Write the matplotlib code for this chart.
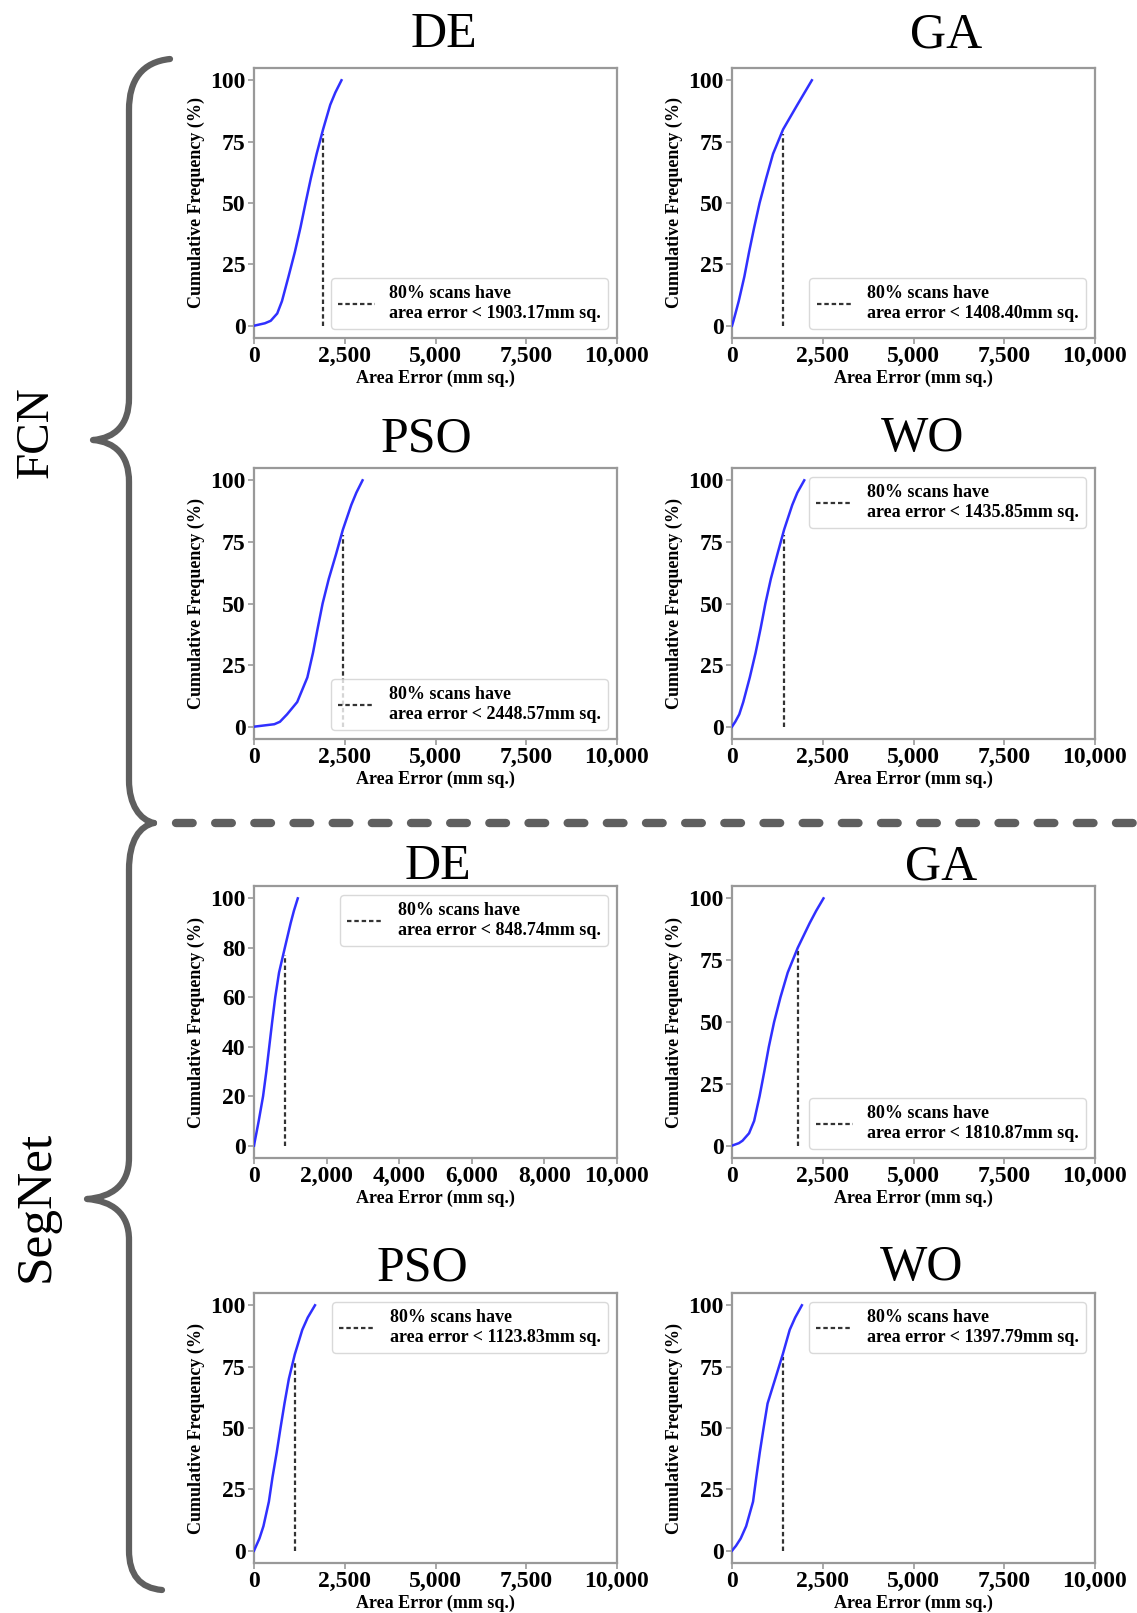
import matplotlib
matplotlib.use("Agg")
import matplotlib.pyplot as plt
from matplotlib.path import Path
from matplotlib.patches import PathPatch
from matplotlib.lines import Line2D
from matplotlib.ticker import FuncFormatter

plt.rcParams['font.family'] = ['Liberation Serif', 'DejaVu Serif']

W, H = 1137, 1613

# ---------------- data ----------------
models = ["FCN", "SegNet"]
algorithms = ["DE", "GA", "PSO", "WO"]

# cumulative frequency levels (%) at which area errors were read
cum_levels = [0, 1, 2, 5, 10, 20, 30, 40, 50, 60, 70, 80, 90, 95, 100]

fcn_de_err = [0, 300, 460, 640, 770, 950, 1125, 1280, 1420, 1565, 1725, 1903, 2100, 2240, 2410]
fcn_ga_err = [0, 20, 40, 95, 185, 340, 470, 610, 760, 940, 1130, 1408, 1800, 2000, 2200]
fcn_pso_err = [0, 560, 715, 910, 1190, 1470, 1625, 1755, 1890, 2060, 2260, 2449, 2680, 2820, 2990]
fcn_wo_err = [0, 45, 90, 200, 310, 490, 650, 790, 920, 1070, 1250, 1436, 1660, 1800, 1990]
seg_de_err = [0, 12, 25, 65, 130, 250, 340, 420, 500, 585, 690, 849, 1010, 1100, 1206]
seg_ga_err = [0, 190, 290, 470, 610, 760, 890, 1015, 1160, 1335, 1535, 1811, 2140, 2320, 2520]
seg_pso_err = [0, 30, 60, 150, 260, 410, 510, 625, 730, 840, 960, 1124, 1330, 1480, 1680]
seg_wo_err = [0, 55, 110, 240, 390, 580, 670, 765, 870, 980, 1190, 1398, 1590, 1740, 1925]

thresholds_80 = [1903.17, 1408.40, 2448.57, 1435.85, 848.74, 1810.87, 1123.83, 1397.79]
vline_tops = [78, 78, 78, 78, 77, 79, 77, 79]

x_ticks_default = [0, 2500, 5000, 7500, 10000]
y_ticks_default = [0, 25, 50, 75, 100]
x_ticks_seg_de = [0, 2000, 4000, 6000, 8000, 10000]
y_ticks_seg_de = [0, 20, 40, 60, 80, 100]

# ---------------- layout ----------------
errs = [fcn_de_err, fcn_ga_err, fcn_pso_err, fcn_wo_err,
        seg_de_err, seg_ga_err, seg_pso_err, seg_wo_err]
legend_locs = ["lower right", "lower right", "lower right", "upper right",
               "upper right", "lower right", "upper right", "upper right"]
col_x = [(254, 617), (732, 1095)]
row_y = [(68, 338), (468, 739), (886, 1158), (1293, 1563)]
title_pos = [(444, 35), (946, 35), (426, 439), (923, 439),
             (438, 867), (941, 867), (422, 1268), (922, 1268)]


def rect(l, t, r, b):
    return [l / W, 1 - b / H, (r - l) / W, (b - t) / H]


def fx(x):
    return x / W


def fy(y):
    return 1 - y / H


fig = plt.figure(figsize=(W / 100, H / 100), dpi=100)

spine_col = "#999999"
fmt = FuncFormatter(lambda v, p: f"{int(v):,}")

for i in range(8):
    m, a = divmod(i, 4)
    r, c = divmod(a, 2)
    row = m * 2 + r
    l, rr = col_x[c]
    t, b = row_y[row]
    ax = fig.add_axes(rect(l, t, rr, b))
    ax.plot(errs[i], cum_levels, color="#3030ff", lw=1.8, zorder=3,
            solid_joinstyle="round")
    ax.plot([thresholds_80[i], thresholds_80[i]], [0, vline_tops[i]],
            color="#333333", lw=1.6, dashes=(2.0, 1.3),
            label=f"80% scans have\narea error < {thresholds_80[i]:.2f}mm sq.")
    ax.set_xlim(0, 10000)
    ax.set_ylim(-5, 105)
    if i == 4:
        ax.set_xticks(x_ticks_seg_de)
        ax.set_yticks(y_ticks_seg_de)
    else:
        ax.set_xticks(x_ticks_default)
        ax.set_yticks(y_ticks_default)
    ax.xaxis.set_major_formatter(fmt)
    for s in ax.spines.values():
        s.set_color(spine_col)
        s.set_linewidth(1.6)
    ax.tick_params(axis="both", length=4, width=1.2, color=spine_col,
                   labelsize=17, pad=2)
    for lab in ax.get_xticklabels() + ax.get_yticklabels():
        lab.set_fontweight("bold")
    ax.set_xlabel("Area Error (mm sq.)", fontsize=13, fontweight="bold", labelpad=2)
    ax.set_ylabel("Cumulative Frequency (%)", fontsize=13, fontweight="bold", labelpad=4)
    leg = ax.legend(loc=legend_locs[i], prop={"size": 13, "weight": "bold"},
                    handlelength=2.0, frameon=True, fancybox=True)
    leg.get_frame().set_edgecolor("#d0d0d0")
    tx, ty = title_pos[i]
    fig.text(fx(tx), fy(ty), algorithms[a], fontsize=36, ha="center", va="center")

# group labels
fig.text(fx(36), fy(432), models[0], fontsize=34, rotation=90, ha="center", va="center")
fig.text(fx(36), fy(1206), models[1], fontsize=37, rotation=90, ha="center", va="center")

# braces
brace_col = "#5f5f5f"


def brace(pts, codes):
    verts = [(fx(x), fy(y)) for x, y in pts]
    p = PathPatch(Path(verts, codes), transform=fig.transFigure, fill=False,
                  edgecolor=brace_col, lw=4.5, capstyle="round", joinstyle="round")
    fig.add_artist(p)


C4 = Path.CURVE4
brace([(170, 59), (142, 62), (129, 80), (129, 110), (129, 398),
       (129, 425), (115, 438), (93, 440), (115, 442), (129, 455), (129, 482),
       (129, 780), (129, 805), (140, 820), (154, 823)],
      [Path.MOVETO, C4, C4, C4, Path.LINETO, C4, C4, C4, C4, C4, C4,
       Path.LINETO, C4, C4, C4])
brace([(154, 823), (140, 826), (129, 840), (129, 870), (129, 1158),
       (129, 1185), (112, 1197), (87, 1199), (112, 1201), (129, 1213), (129, 1240),
       (129, 1550), (129, 1575), (140, 1588), (162, 1590)],
      [Path.MOVETO, C4, C4, C4, Path.LINETO, C4, C4, C4, C4, C4, C4,
       Path.LINETO, C4, C4, C4])

# separator
sep = Line2D([fx(176), fx(1137)], [fy(823), fy(823)], transform=fig.transFigure,
             color=brace_col, lw=6, dashes=(2.0, 2.7), dash_capstyle="round")
fig.add_artist(sep)

fig.savefig("out.png", dpi=100, facecolor="white")
